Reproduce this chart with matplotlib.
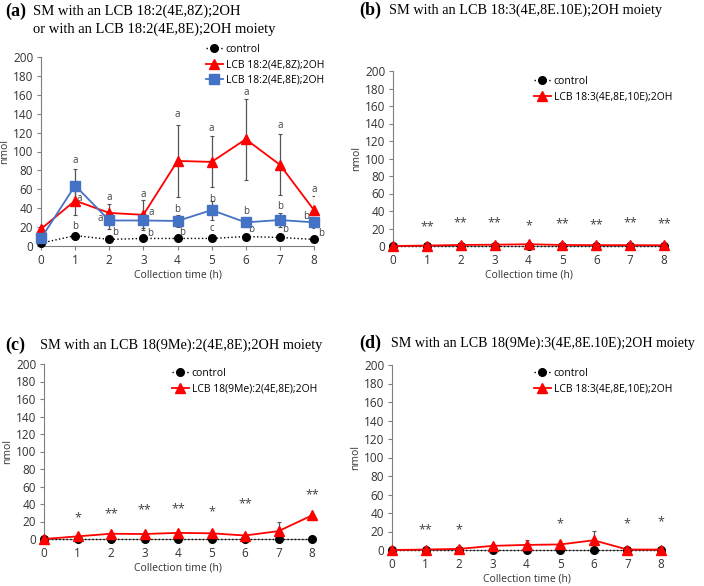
import matplotlib.pyplot as plt

# collection time (h)
hours = [0, 1, 2, 3, 4, 5, 6, 7, 8]

# panel (a)
a_ctrl = [3, 11, 7, 8, 8, 8, 10, 9, 7]
a_z = [18, 48, 35, 33, 90, 89, 113, 86, 38]
a_z_err = [4, 15, 9, 16, 38, 27, 43, 32, 15]
a_e = [8, 64, 27, 27, 26.5, 38, 25, 27.5, 25]
a_e_err = [3, 18, 9, 8, 6, 10, 5, 7, 6]
# letters: (x, y, text)
a_letters = [(1, 90, 'a'), (1.13, 50, 'a'), (1, 21, 'b'),
             (2, 51, 'a'), (1.75, 29, 'a'), (2.18, 14, 'b'),
             (3, 55, 'a'), (3.24, 35, 'a'), (3.2, 13, 'b'),
             (4, 139, 'a'), (4, 39, 'b'), (4.15, 14.5, 'b'),
             (5, 124, 'a'), (5, 49, 'b'), (5, 19, 'c'),
             (6, 162, 'a'), (6, 37, 'b'), (6.15, 17, 'b'),
             (7, 127, 'a'), (7, 42, 'b'), (7.15, 17, 'b'),
             (8, 60, 'a'), (7.78, 31, 'b'), (8.2, 13, 'b')]

# panel (b)
b_ctrl = [0, 0, 0, 0, 0, 0, 0, 0, 0]
b_lcb = [0, 0.5, 1.2, 1.5, 2, 1.2, 1, 1, 0.8]
b_stars = ['', '**', '**', '**', '*', '**', '**', '**', '**']
b_star_y = [0, 22, 27, 27, 23, 25, 24, 27, 25]

# panel (c)
c_ctrl = [0, 0, 0, 0, 0, 0, 0, 0, 0]
c_lcb = [0, 3, 6, 5.7, 7, 6.5, 4, 9, 27]
c_err = [0, 0, 0, 0, 0, 0, 0, 11, 0]
c_stars = ['', '*', '**', '**', '**', '*', '**', '', '**']
c_star_y = [0, 24, 28.5, 33, 35, 31.5, 40, 0, 50.5]

# panel (d)
d_ctrl = [0, 0, 0, 0, 0, 0, 0, 0, 0]
d_lcb = [0, 0.5, 1.2, 4.5, 5.5, 6, 10.5, 0.5, 0.5]
d_err = [0, 0, 0, 2, 5.5, 2, 10.5, 0, 0]
d_stars = ['', '**', '*', '', '', '*', '', '*', '*']
d_star_y = [0, 21.5, 21.5, 0, 0, 28.5, 0, 28.5, 30]

W, H = 704, 586
fig = plt.figure(figsize=(W / 100, H / 100), dpi=100)

sans = 'Open Sans'
serif = 'Liberation Serif'
grey = '#7f7f7f'
txtc = '#404040'


def px_axes(left, right, y0, y200):
    return fig.add_axes([left / W, 1 - y0 / H, (right - left) / W, (y0 - y200) / H])


def style(ax):
    ax.set_xlim(0, 8)
    ax.set_ylim(0, 200)
    ax.set_xticks(hours)
    ax.set_yticks(range(0, 201, 20))
    for s in ['top', 'right']:
        ax.spines[s].set_visible(False)
    for s in ['left', 'bottom']:
        ax.spines[s].set_color(grey)
        ax.spines[s].set_linewidth(0.8)
    ax.tick_params(axis='both', labelsize=8.5, colors=grey, labelcolor='#333333',
                   length=3, width=0.8, direction='out', pad=2.5)
    for lab in ax.get_xticklabels() + ax.get_yticklabels():
        lab.set_family(sans)
    ax.set_xlabel('Collection time (h)', fontsize=7.5, family=sans, color='#333333', labelpad=2)
    ax.set_ylabel('nmol', fontsize=7.5, family=sans, color='#333333', labelpad=2)


def plot_ctrl(ax, vals):
    ax.plot(hours, vals, color='black', ls=':', lw=1, marker='o', ms=5.5,
            label='control', clip_on=False, zorder=3)


def plot_red(ax, vals, lab, err=None):
    if err is not None:
        ax.errorbar(hours, vals, yerr=err, fmt='none', ecolor='#555555',
                    elinewidth=0.9, capsize=1.5, capthick=0.8, zorder=2)
    ax.plot(hours, vals, color='red', lw=1.3, marker='^', ms=7,
            label=lab, clip_on=False, zorder=4)


def legend(ax, x, y):
    ax.legend(loc='upper left', bbox_to_anchor=(x / W, 1 - y / H),
              bbox_transform=fig.transFigure, frameon=False,
              prop={'family': sans, 'size': 7.5}, handlelength=1.6,
              handletextpad=0.3, labelspacing=0.4, borderaxespad=0,
              borderpad=0)


def stars(ax, labels, ys):
    for h, s, y in zip(hours, labels, ys):
        if s:
            ax.text(h, y, s, ha='center', va='center', fontsize=9,
                    family=sans, color=txtc)


def title(xp, yp, tag, txt, xt, size=10.3):
    fig.text(xp / W, 1 - yp / H, tag, family=serif, weight='bold', fontsize=13, va='center')
    fig.text(xt / W, 1 - yp / H, txt, family=serif, fontsize=size, va='center')


# (a)
ax = px_axes(41, 314, 246, 57)
style(ax)
ax.errorbar(hours, a_z, yerr=a_z_err, fmt='none', ecolor='#555555',
            elinewidth=0.9, capsize=1.5, capthick=0.8, zorder=2)
ax.errorbar(hours, a_e, yerr=a_e_err, fmt='none', ecolor='#555555',
            elinewidth=0.9, capsize=1.5, capthick=0.8, zorder=2)
plot_ctrl(ax, a_ctrl)
ax.plot(hours, a_z, color='red', lw=1.3, marker='^', ms=7,
        label='LCB 18:2(4E,8Z);2OH', clip_on=False, zorder=4)
ax.plot(hours, a_e, color='#4472C4', lw=1.3, marker='s', ms=7,
        label='LCB 18:2(4E,8E);2OH', clip_on=False, zorder=5)
for x, y, s in a_letters:
    ax.text(x, y, s, ha='center', va='center', fontsize=7, family=sans, color=txtc)
legend(ax, 206, 44)
title(5, 11, '(a)', 'SM with an LCB 18:2(4E,8Z);2OH', 33, 10.5)
fig.text(33 / W, 1 - 29 / H, 'or with an LCB 18:2(4E,8E);2OH moiety', family=serif,
         fontsize=10.5, va='center')

# (b)
ax = px_axes(393, 664, 246, 71)
style(ax)
plot_ctrl(ax, b_ctrl)
plot_red(ax, b_lcb, 'LCB 18:3(4E,8E,10E);2OH')
stars(ax, b_stars, b_star_y)
legend(ax, 534, 76)
title(359, 10, '(b)', 'SM with an LCB 18:3(4E,8E.10E);2OH moiety', 389)

# (c)
ax = px_axes(44, 312, 539, 364)
style(ax)
plot_ctrl(ax, c_ctrl)
plot_red(ax, c_lcb, 'LCB 18(9Me):2(4E,8E);2OH', c_err)
stars(ax, c_stars, c_star_y)
legend(ax, 172, 368)
title(5, 345, '(c)', 'SM with an LCB 18(9Me):2(4E,8E);2OH moiety', 40)

# (d)
ax = px_axes(392, 661, 550, 365)
style(ax)
plot_ctrl(ax, d_ctrl)
plot_red(ax, d_lcb, 'LCB 18:3(4E,8E,10E);2OH', d_err)
stars(ax, d_stars, d_star_y)
legend(ax, 534, 368)
title(359, 343, '(d)', 'SM with an LCB 18(9Me):3(4E,8E.10E);2OH moiety', 391, 10.1)

fig.savefig('out.png', dpi=100)
